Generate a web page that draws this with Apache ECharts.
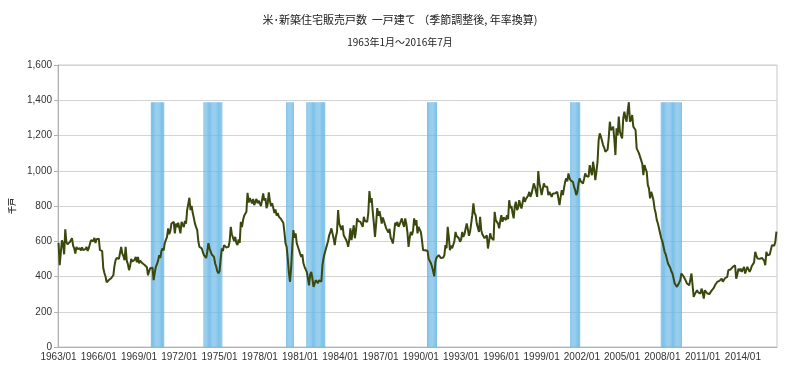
<!DOCTYPE html>
<html>
<head>
<meta charset="utf-8">
<script src="https://cdn.jsdelivr.net/npm/echarts@6/dist/echarts.min.js"></script>
<style>
  html, body { margin: 0; padding: 0; background: #fff; }
  #chart { width: 800px; height: 377px; }
</style>
</head>
<body>
<div id="chart"></div>
<script>
// 月次データ（千戸、季節調整後・年率換算） 1963/01 ～ 2016/07
const sales = [
  591, 464, 461, 605, 586, 526, 668, 597, 582, 577, 595, 606, // 1963
  617, 575, 560, 530, 568, 555, 545, 560, 548, 565, 550, 560, // 1964
  555, 568, 545, 560, 565, 606, 615, 600, 619, 590, 612, 605, // 1965
  615, 550, 560, 545, 447, 420, 400, 367, 375, 380, 372, 390, // 1966
  395, 407, 460, 493, 505, 511, 500, 535, 568, 530, 515, 493, // 1967
  568, 490, 470, 436, 460, 500, 485, 480, 495, 511, 480, 511, // 1968
  475, 490, 500, 475, 470, 465, 460, 453, 407, 430, 447, 455, // 1969
  450, 379, 420, 455, 470, 490, 521, 505, 545, 560, 548, 590, // 1970
  597, 625, 673, 640, 660, 701, 690, 710, 644, 700, 680, 705, // 1971
  700, 645, 710, 700, 680, 715, 700, 777, 770, 847, 777, 800, // 1972
  760, 731, 700, 680, 663, 600, 568, 575, 560, 540, 521, 530, // 1973
  505, 540, 589, 560, 549, 525, 530, 511, 475, 455, 430, 418, // 1974
  430, 500, 560, 545, 578, 570, 565, 575, 568, 600, 682, 640, // 1975
  645, 600, 625, 590, 578, 610, 590, 710, 680, 720, 745, 740, // 1976
  767, 875, 820, 845, 830, 815, 840, 805, 825, 840, 815, 830, // 1977
  820, 800, 835, 871, 830, 845, 788, 810, 877, 830, 800, 815, // 1978
  790, 760, 780, 745, 760, 740, 730, 725, 720, 705, 650, 587, // 1979
  567, 500, 420, 370, 450, 570, 663, 620, 645, 589, 570, 550, // 1980
  530, 511, 525, 475, 455, 440, 426, 390, 350, 410, 426, 390, // 1981
  341, 360, 379, 370, 362, 379, 375, 370, 464, 505, 532, 555, // 1982
  578, 600, 634, 650, 673, 665, 616, 578, 625, 653, 777, 700, // 1983
  701, 665, 690, 634, 640, 610, 595, 568, 610, 673, 606, 650, // 1984
  691, 617, 660, 730, 715, 720, 710, 700, 682, 739, 715, 720, // 1985
  710, 760, 885, 820, 845, 767, 700, 625, 700, 788, 745, 770, // 1986
  739, 700, 735, 715, 725, 673, 680, 650, 670, 620, 606, 587, // 1987
  640, 705, 690, 710, 682, 695, 700, 730, 700, 682, 730, 700, // 1988
  650, 568, 620, 653, 634, 660, 730, 691, 720, 645, 682, 665, // 1989
  653, 606, 549, 560, 549, 540, 545, 500, 493, 475, 455, 430, // 1990
  401, 482, 507, 511, 521, 510, 504, 515, 508, 520, 578, 560, // 1991
  682, 625, 549, 575, 560, 560, 600, 653, 630, 640, 617, 597, // 1992
  610, 653, 625, 640, 630, 701, 670, 631, 653, 700, 748, 815, // 1993
  760, 748, 700, 690, 653, 739, 663, 640, 650, 617, 625, 634, // 1994
  559, 600, 645, 620, 630, 606, 767, 720, 730, 700, 673, 715, // 1995
  748, 710, 735, 745, 720, 748, 725, 833, 788, 800, 760, 730, // 1996
  800, 824, 777, 790, 833, 805, 786, 820, 852, 824, 840, 830, // 1997
  860, 880, 852, 870, 865, 928, 909, 880, 852, 998, 930, 900, // 1998
  862, 895, 928, 910, 920, 909, 862, 880, 870, 852, 870, 860, // 1999
  872, 865, 880, 870, 805, 850, 890, 862, 900, 937, 957, 940, // 2000
  985, 957, 945, 950, 937, 910, 890, 862, 880, 928, 957, 940, // 2001
  945, 928, 955, 985, 970, 975, 966, 1032, 1000, 975, 1051, 1010, // 2002
  947, 994, 1050, 1174, 1212, 1195, 1184, 1146, 1130, 1108, 1099, 1120, // 2003
  1184, 1278, 1230, 1222, 1250, 1180, 1089, 1241, 1200, 1307, 1222, 1200, // 2004
  1184, 1298, 1335, 1300, 1278, 1340, 1389, 1278, 1290, 1316, 1250, 1260, // 2005
  1231, 1127, 1117, 1100, 1089, 1060, 1040, 975, 1032, 1010, 994, 918, // 2006
  900, 843, 880, 860, 833, 786, 760, 720, 701, 690, 644, 617, // 2007
  600, 589, 540, 525, 500, 474, 464, 450, 430, 417, 390, 360, // 2008
  360, 341, 350, 365, 379, 417, 407, 400, 390, 375, 360, 350, // 2009
  350, 341, 417, 426, 284, 300, 290, 322, 310, 305, 303, 331, // 2010
  310, 275, 322, 315, 305, 303, 300, 310, 320, 331, 335, 350, // 2011
  340, 369, 360, 375, 380, 388, 370, 379, 390, 385, 398, 436, // 2012
  445, 440, 436, 455, 450, 464, 388, 410, 445, 430, 445, 426, // 2013
  440, 455, 417, 420, 455, 440, 426, 440, 460, 470, 480, 540, // 2014
  520, 502, 511, 500, 493, 505, 511, 490, 464, 540, 520, 511, // 2015
  525, 515, 578, 568, 575, 597, 654                          // 2016
];

// 景気後退期（開始月, 終了月）
const recessions = [
  ['1969/12', '1970/11'],
  ['1973/11', '1975/03'],
  ['1980/01', '1980/07'],
  ['1981/07', '1982/11'],
  ['1990/07', '1991/03'],
  ['2001/03', '2001/11'],
  ['2007/12', '2009/06']
];
const recessionTop = 1389;

const yTicks = [0, 200, 400, 600, 800, 1000, 1200, 1400, 1600];

// カテゴリ（年/月）
let months = [];
for (let i = 0; i < sales.length; i++) {
  let y = 1963 + Math.floor(i / 12);
  let m = (i % 12) + 1;
  months.push(y + '/' + (m < 10 ? '0' + m : m));
}

let bands = months.map(function (mo) {
  for (let r of recessions) {
    if (mo >= r[0] && mo <= r[1]) return recessionTop;
  }
  return '-';
});

let myChart = echarts.init(document.getElementById('chart'));
const font = "'Liberation Sans', Arial, sans-serif";
const cjk = "'Noto Sans CJK JP', 'Noto Sans', sans-serif";

let option = {
  animation: false,
  title: {
    text: '米･新築住宅販売戸数  一戸建て （季節調整後, 年率換算)',
    subtext: '1963年1月～2016年7月',
    left: 'center',
    top: 9,
    itemGap: 12,
    textStyle: { fontFamily: cjk, fontSize: 11, fontWeight: 'normal', color: '#222' },
    subtextStyle: { fontFamily: cjk, fontSize: 10, color: '#222' }
  },
  grid: {
    left: 58,
    right: 23,
    top: 65,
    bottom: 30,
    outerBoundsMode: 'none',
    show: true,
    borderColor: '#c8c8c8',
    borderWidth: 1
  },
  xAxis: {
    type: 'category',
    data: months,
    boundaryGap: true,
    axisLine: { lineStyle: { color: '#b0b0b0' } },
    axisTick: {
      interval: function (i) { return i % 36 === 0; },
      length: 4,
      lineStyle: { color: '#b0b0b0' }
    },
    axisLabel: {
      interval: function (i) { return i % 36 === 0; },
      margin: 5,
      fontFamily: font,
      fontSize: 10,
      color: '#333'
    },
    splitLine: { show: false }
  },
  yAxis: {
    type: 'value',
    min: 0,
    max: 1600,
    interval: 200,
    name: '千戸',
    nameLocation: 'middle',
    nameGap: 42,
    nameRotate: 90,
    nameMoveOverlap: false,
    nameTextStyle: { fontFamily: cjk, fontSize: 8, fontWeight: 'bold', color: '#333' },
    axisLine: { show: true, lineStyle: { color: '#b0b0b0' } },
    axisTick: { show: true, length: 4, lineStyle: { color: '#b0b0b0' } },
    axisLabel: {
      margin: 6,
      fontFamily: font,
      fontSize: 10,
      color: '#333',
      formatter: function (v) { return yTicks.indexOf(v) >= 0 ? v.toLocaleString('en-US') : ''; }
    },
    splitLine: { lineStyle: { color: '#d4d4d4' } }
  },
  series: [
    {
      name: '景気後退期',
      type: 'bar',
      data: bands,
      barCategoryGap: '0%',
      barGap: '0%',
      itemStyle: { color: '#6cb8e6', opacity: 0.88 },
      silent: true,
      z: 1
    },
    {
      name: '販売戸数',
      type: 'line',
      data: sales,
      showSymbol: false,
      lineStyle: { color: '#3a470d', width: 2 },
      z: 3
    }
  ]
};

myChart.setOption(option);
</script>
</body>
</html>
